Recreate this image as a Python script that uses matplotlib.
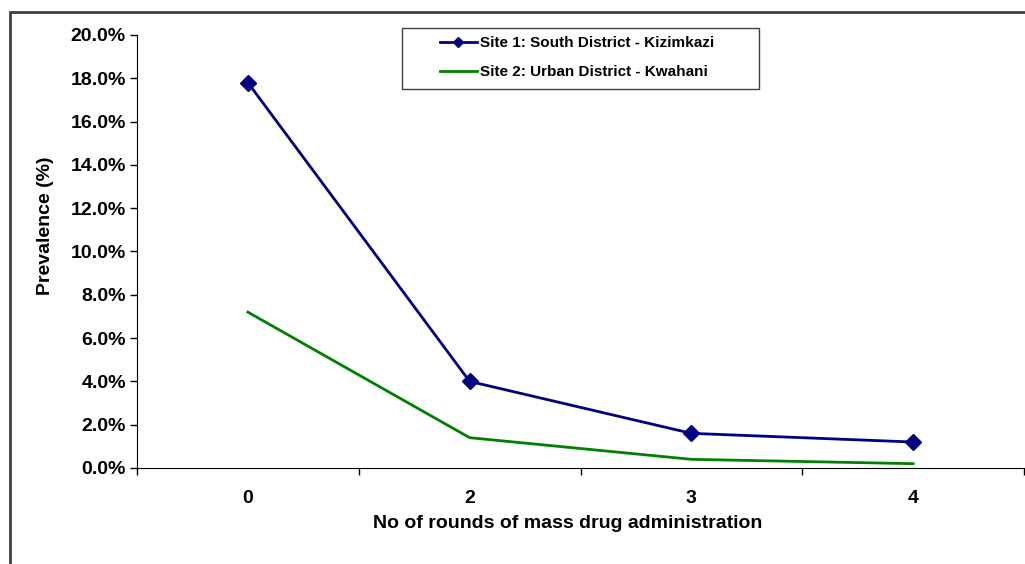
import matplotlib
matplotlib.use("Agg")
import matplotlib.pyplot as plt
from matplotlib.patches import Rectangle
from matplotlib.ticker import FuncFormatter, FixedLocator

plt.rcParams['font.family'] = ['Liberation Sans', 'DejaVu Sans']
plt.rcParams['font.weight'] = 'bold'

# data
rounds = ['0', '2', '3', '4']
site1 = [17.8, 4.0, 1.6, 1.2]   # South District - Kizimkazi
site2 = [7.2, 1.4, 0.4, 0.2]    # Urban District - Kwahani
yticks = [0, 2, 4, 6, 8, 10, 12, 14, 16, 18, 20]

W, H = 1025, 564
fig = plt.figure(figsize=(W / 100, H / 100), dpi=100)
ax = fig.add_axes([137 / W, 1 - 468 / H, 887 / W, 433 / H])

x = range(len(rounds))
ax.plot(x, site1, color='#000080', lw=2, marker='D', ms=8,
        label='Site 1: South District - Kizimkazi')
ax.plot(x, site2, color='#008000', lw=2,
        label='Site 2: Urban District - Kwahani')

ax.set_xlim(-0.5, len(rounds) - 0.5)
ax.set_ylim(0, 20)
ax.set_yticks(yticks)
ax.yaxis.set_major_formatter(FuncFormatter(lambda v, p: '%.1f%%' % v))
ax.tick_params(axis='y', labelsize=14, length=5, width=1, direction='out', pad=3)

# category labels centred, tick marks at the boundaries
ax.set_xticks(list(x))
ax.set_xticklabels(rounds)
ax.tick_params(axis='x', which='major', length=0, labelsize=14, pad=16)
ax.xaxis.set_minor_locator(FixedLocator([i - 0.5 for i in range(len(rounds) + 1)]))
ax.tick_params(axis='x', which='minor', length=5, width=1, direction='out')

for s in ['top', 'right']:
    ax.spines[s].set_visible(False)

fig.text(568 / W, 1 - 524 / H, 'No of rounds of mass drug administration',
         fontsize=14, fontweight='bold', ha='center', va='center')
fig.text(46 / W, 1 - 226 / H, 'Prevalence (%)', rotation=90,
         fontsize=14, fontweight='bold', ha='center', va='center')

leg = fig.legend(loc='upper left', bbox_to_anchor=(440 / W, 1 - 36 / H),
                 fontsize=11, frameon=False, borderpad=0, borderaxespad=0,
                 handlelength=2.4, handletextpad=0.25, labelspacing=1.0,
                 markerscale=0.65)
for t in leg.get_texts():
    t.set_fontweight('bold')

# legend frame
fig.patches.append(Rectangle((402 / W, 1 - 89 / H), 357 / W, 61 / H,
                             transform=fig.transFigure, fill=False,
                             edgecolor='#404040', lw=1))

# outer chart border (clipped on right/bottom like the reference)
fig.patches.append(Rectangle((10 / W, -0.1), 1.2, (1 - 12 / H) + 0.1,
                             transform=fig.transFigure, fill=False,
                             edgecolor='#404040', lw=2))

fig.savefig('out.png', dpi=100)
